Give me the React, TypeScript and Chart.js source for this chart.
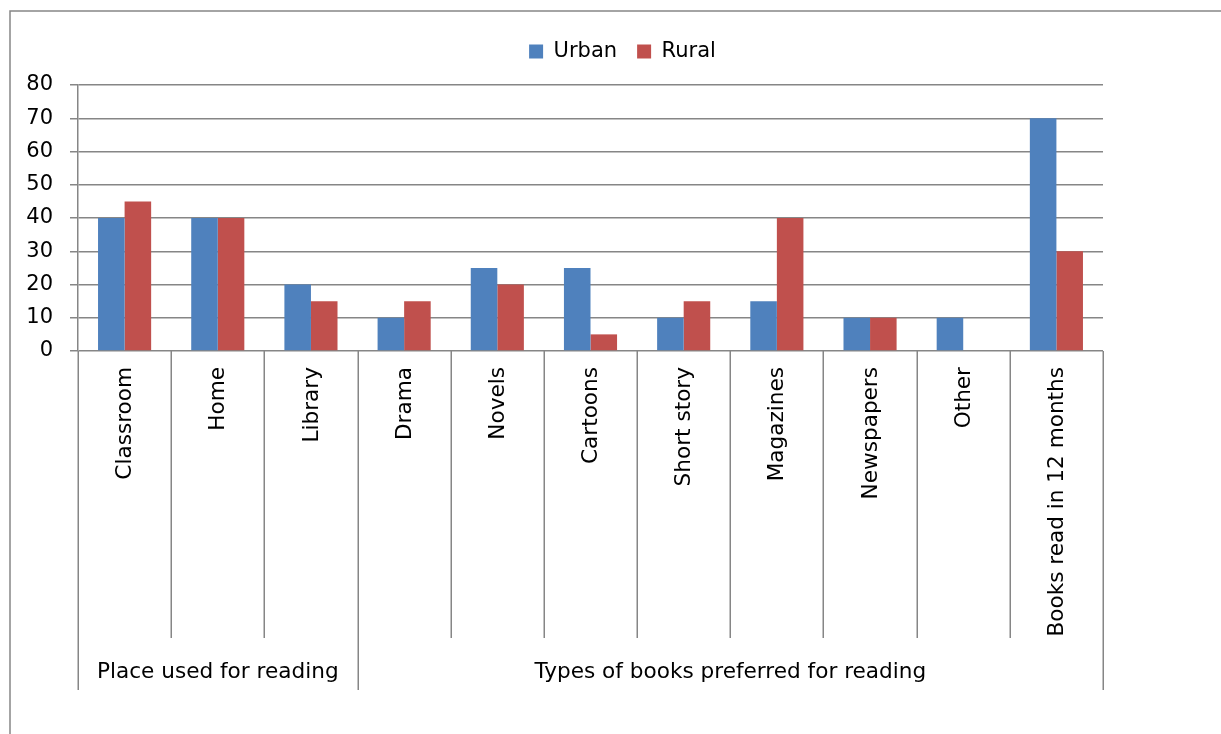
import React, { useEffect, useRef } from "react";
import { Chart, registerables } from "chart.js";

Chart.register(...registerables);

const categories = [
  "Classroom",
  "Home",
  "Library",
  "Drama",
  "Novels",
  "Cartoons",
  "Short story",
  "Magazines",
  "Newspapers",
  "Other",
  "Books read in 12 months",
];
const urbanValues = [40, 40, 20, 10, 25, 25, 10, 15, 10, 10, 70];
const ruralValues = [45, 40, 15, 15, 20, 5, 15, 40, 10, 0, 30];
const groupLabels = ["Place used for reading", "Types of books preferred for reading"];
const groupStarts = [0, 3];
const groupEnds = [2, 10];
const yMin = 0;
const yMax = 80;
const yStep = 10;

const FONT = "'DejaVu Sans', 'Open Sans', sans-serif";
const FONT_SIZE = 21;
const AXIS_LABEL_SIZE = 21.6;
const LINE = "#868686";
const BLUE = "#4F81BD";
const RED = "#C0504D";

const LEVEL1 = 287; // height of the category-label band below the axis
const LEVEL2 = 52; // height of the group-label band

const framePlugin = {
  id: "frame",
  beforeDraw(chart: any) {
    const ctx = chart.ctx;
    ctx.save();
    ctx.fillStyle = "#ffffff";
    ctx.fillRect(0, 0, chart.width, chart.height);
    ctx.strokeStyle = LINE;
    ctx.lineWidth = 1.5;
    ctx.strokeRect(10, 11, chart.width + 50, chart.height + 50);
    ctx.restore();
  },
};

const multiLevelAxisPlugin = {
  id: "multiLevelAxis",
  afterDraw(chart: any) {
    const ctx = chart.ctx;
    const xs = chart.scales.x;
    const area = chart.chartArea;
    const n = categories.length;
    const half = (xs.getPixelForValue(1) - xs.getPixelForValue(0)) / 2;
    const edge = (i: number) =>
      i < n ? xs.getPixelForValue(i) - half : xs.getPixelForValue(n - 1) + half;
    const isGroupEdge = (i: number) =>
      groupStarts.indexOf(i) >= 0 || groupEnds.indexOf(i - 1) >= 0;

    ctx.save();
    ctx.strokeStyle = LINE;
    ctx.lineWidth = 1.5;
    const top = area.bottom;
    for (let i = 0; i <= n; i++) {
      const px = Math.round(edge(i)) + 0.25;
      const bottom = isGroupEdge(i) ? top + LEVEL1 + LEVEL2 : top + LEVEL1;
      ctx.beginPath();
      ctx.moveTo(px, top);
      ctx.lineTo(px, bottom);
      ctx.stroke();
    }

    ctx.fillStyle = "#000000";
    ctx.font = `${AXIS_LABEL_SIZE}px ${FONT}`;
    for (let i = 0; i < n; i++) {
      const cx = xs.getPixelForValue(i);
      ctx.save();
      ctx.translate(cx + 1, top + 16);
      ctx.rotate(-Math.PI / 2);
      ctx.textAlign = "right";
      ctx.textBaseline = "middle";
      ctx.fillText(categories[i], 0, 0);
      ctx.restore();
    }

    ctx.textAlign = "center";
    ctx.textBaseline = "alphabetic";
    for (let g = 0; g < groupLabels.length; g++) {
      const cx = (edge(groupStarts[g]) + edge(groupEnds[g] + 1)) / 2;
      ctx.fillText(groupLabels[g], cx, top + LEVEL1 + 40);
    }
    ctx.restore();
  },
};

export default function App() {
  const canvasRef = useRef<HTMLCanvasElement>(null);

  useEffect(() => {
    const canvas = canvasRef.current;
    if (!canvas) return;
    const chart = new Chart(canvas, {
      type: "bar",
      data: {
        labels: categories,
        datasets: [
          {
            label: "Urban",
            data: urbanValues,
            backgroundColor: BLUE,
            borderWidth: 0,
            barPercentage: 1,
            categoryPercentage: 0.57,
          },
          {
            label: "Rural",
            data: ruralValues,
            backgroundColor: RED,
            borderWidth: 0,
            barPercentage: 1,
            categoryPercentage: 0.57,
          },
        ],
      },
      options: {
        responsive: false,
        animation: false,
        devicePixelRatio: 1,
        layout: { padding: { left: 24, right: 0, top: 21, bottom: 0 } },
        plugins: {
          legend: {
            display: true,
            position: "top",
            labels: {
              boxWidth: 14,
              boxHeight: 14,
              padding: 20,
              color: "#000000",
              font: { family: FONT, size: FONT_SIZE },
            },
          },
          title: {
            display: true,
            text: "",
            position: "top",
            weight: 500,
            font: { size: 1, lineHeight: 1 },
            padding: { top: 12, bottom: 0 },
          },
          tooltip: { enabled: false },
        },
        scales: {
          x: {
            type: "category",
            offset: true,
            grid: { display: false },
            border: { display: false },
            ticks: { display: false },
            afterFit: (s: any) => {
              s.height = 383;
            },
          },
          y: {
            type: "linear",
            position: "left",
            min: yMin,
            max: yMax,
            ticks: {
              stepSize: yStep,
              color: "#000000",
              padding: 17,
              font: { family: FONT, size: FONT_SIZE },
            },
            grid: {
              color: LINE,
              lineWidth: 1.5,
              tickLength: 8,
              drawTicks: true,
            },
            border: { display: true, color: LINE, width: 1.5 },
            afterFit: (s: any) => {
              s.width = 54;
            },
          },
          pad: {
            type: "linear",
            position: "right",
            display: true,
            grid: { display: false },
            border: { display: false },
            ticks: { display: false },
            afterFit: (s: any) => {
              s.width = 118;
            },
          },
        },
      },
      plugins: [framePlugin, multiLevelAxisPlugin],
    } as any);
    return () => chart.destroy();
  }, []);

  return (
    <div
      style={{
        position: "fixed",
        left: 0,
        top: 0,
        width: 1221,
        height: 734,
        background: "#ffffff",
      }}
    >
      <canvas ref={canvasRef} width={1221} height={734} style={{ display: "block" }} />
    </div>
  );
}
